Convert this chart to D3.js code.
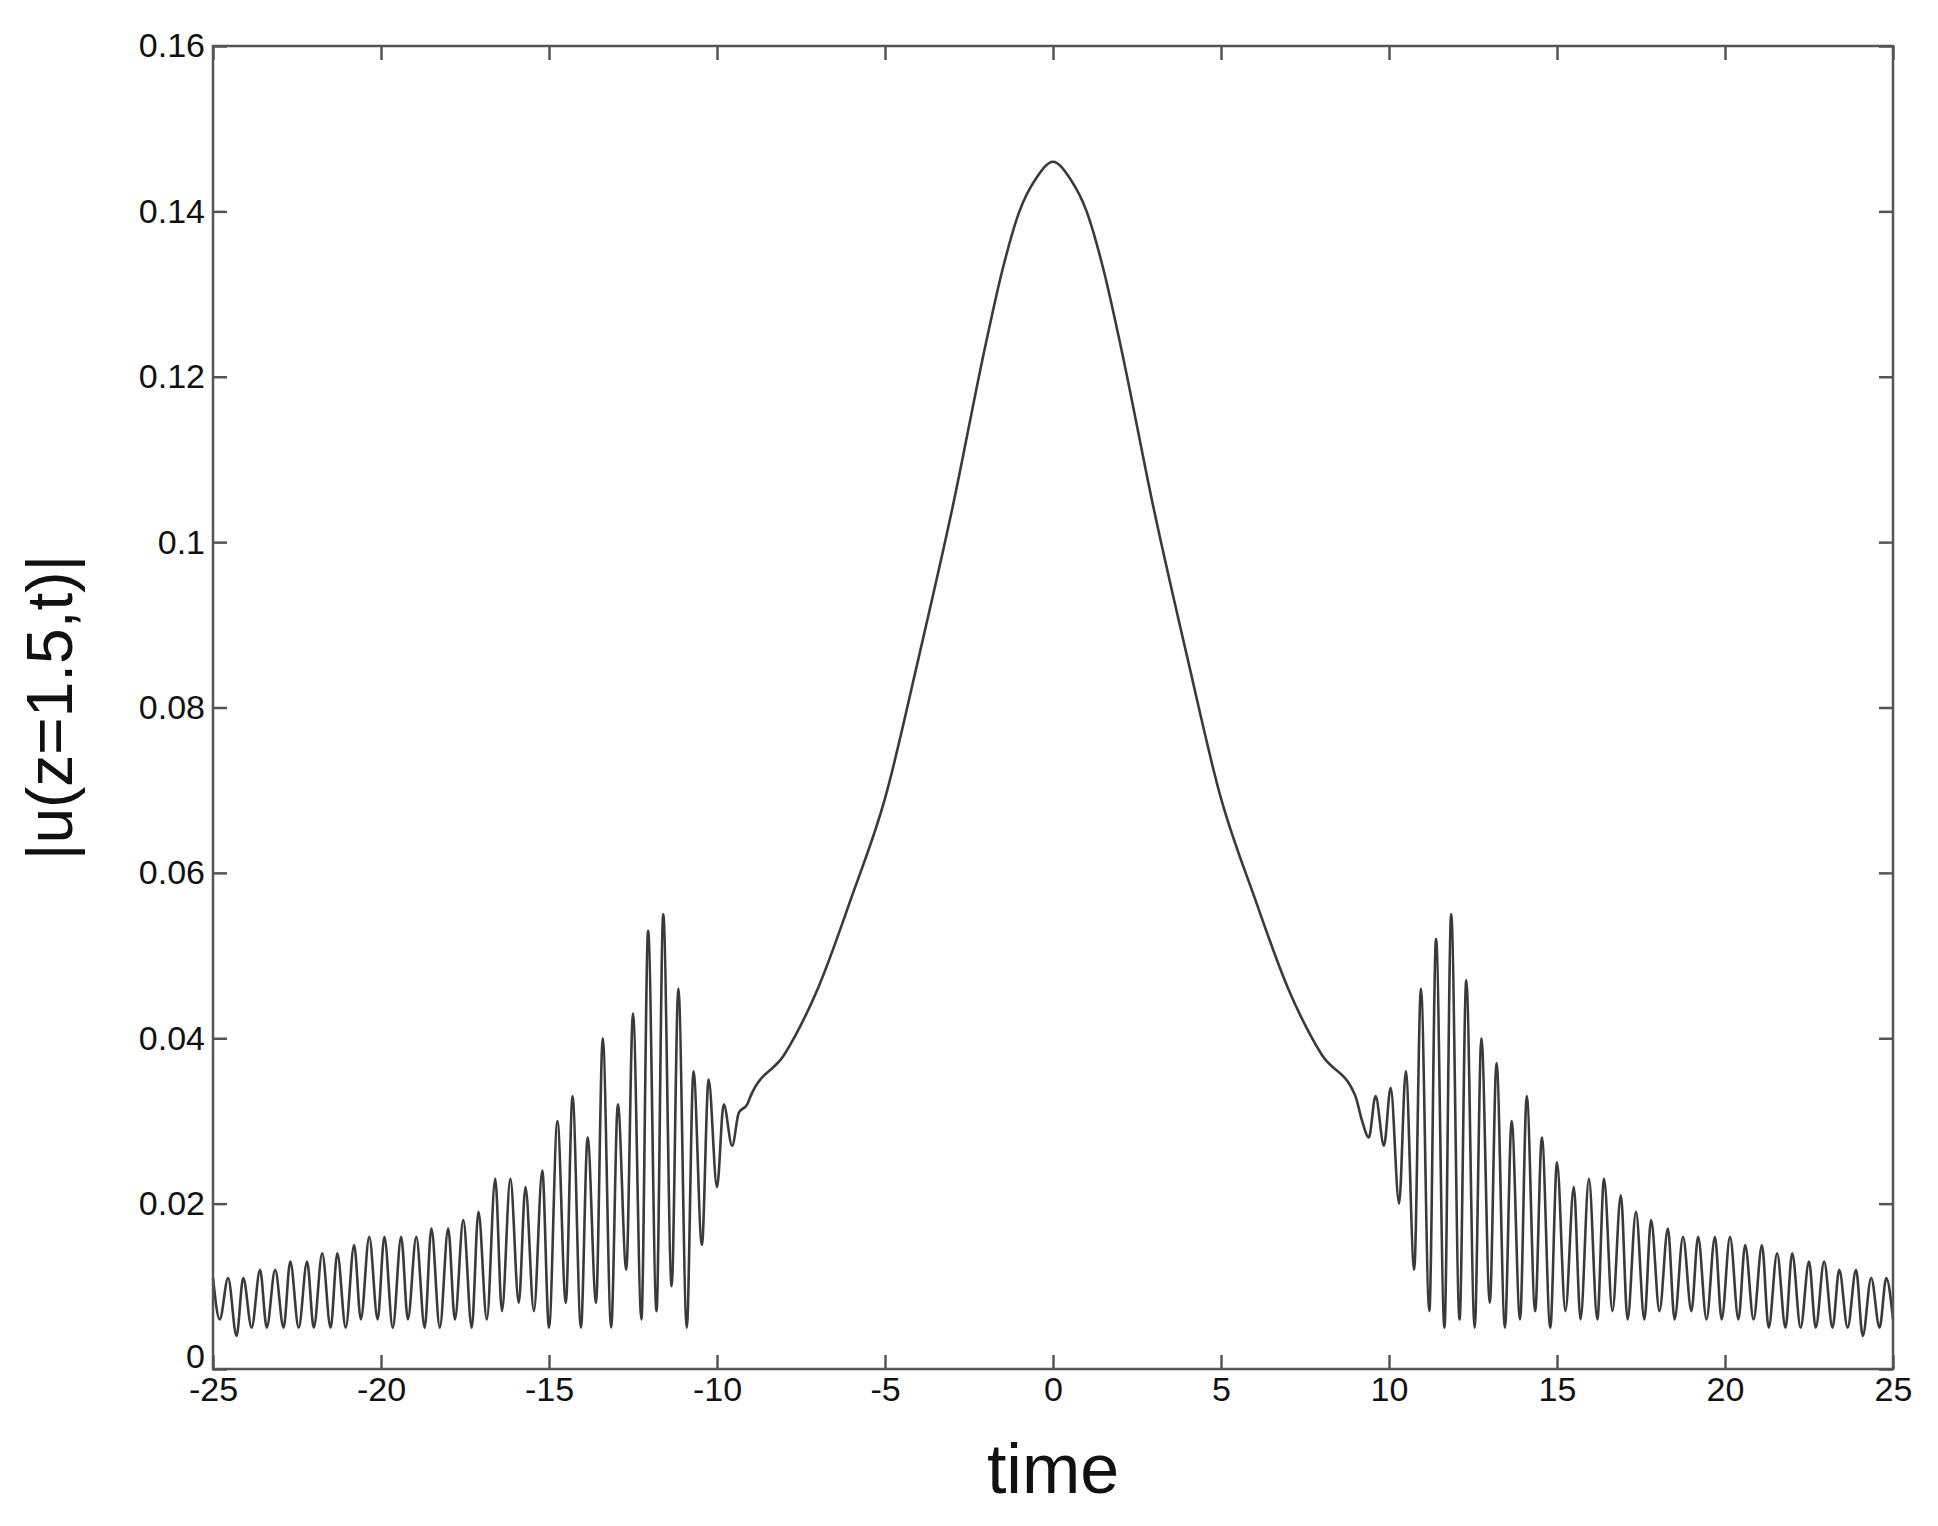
<!DOCTYPE html><html><head><meta charset="utf-8">
<script src="https://cdn.jsdelivr.net/npm/d3@7"></script>
<style>body{margin:0;background:#fff}</style></head><body><svg id="c" width="1938" height="1526"></svg>
<script>
const xTicks=[-25,-20,-15,-10,-5,0,5,10,15,20,25];
const yTicks=[0,0.02,0.04,0.06,0.08,0.1,0.12,0.14,0.16];
const leftT=[-25,-24.8,-24.55,-24.3,-24.1,-23.85,-23.6,-23.4,-23.15,-22.9,-22.7,-22.45,-22.2,-22,-21.75,-21.5,-21.3,-21.05,-20.8,-20.6,-20.35,-20.1,-19.9,-19.65,-19.4,-19.2,-18.95,-18.7,-18.5,-18.25,-18,-17.8,-17.55,-17.3,-17.1,-16.85,-16.6,-16.4,-16.15,-15.9,-15.7,-15.45,-15.2,-15,-14.75,-14.5,-14.3,-14.05,-13.85,-13.6,-13.4,-13.15,-12.95,-12.7,-12.5,-12.25,-12.05,-11.8,-11.6,-11.35,-11.15,-10.9,-10.7,-10.45,-10.25,-10,-9.8,-9.55,-9.35,-9.1];
const leftV=[.011,.006,.011,.004,.011,.005,.012,.005,.012,.005,.013,.005,.013,.005,.014,.005,.014,.005,.015,.006,.016,.006,.016,.005,.016,.006,.016,.005,.017,.005,.017,.006,.018,.005,.019,.006,.023,.007,.023,.008,.022,.007,.024,.005,.030,.008,.033,.005,.028,.008,.040,.005,.032,.012,.043,.006,.053,.007,.055,.010,.046,.005,.036,.015,.035,.022,.032,.027,.031,.032];
const midT=[-9,-8,-7,-6,-5,-4,-3,-2,-1.5,-1,-0.5,0,0.5,1,1.5,2,3,4,5,6,7,8,9];
const midV=[.033,.038,.046,.057,.069,.086,.104,.124,.133,.140,.144,.146,.144,.140,.133,.124,.104,.086,.069,.057,.046,.038,.033];
const rightT=[9.2,9.4,9.6,9.85,10.05,10.3,10.5,10.75,10.95,11.2,11.4,11.65,11.85,12.1,12.3,12.55,12.75,13,13.2,13.45,13.65,13.9,14.1,14.35,14.55,14.8,15,15.25,15.5,15.7,15.95,16.2,16.4,16.65,16.9,17.1,17.35,17.6,17.8,18.05,18.3,18.5,18.75,19,19.2,19.45,19.7,19.9,20.15,20.4,20.6,20.85,21.1,21.3,21.55,21.8,22,22.25,22.5,22.7,22.95,23.2,23.4,23.65,23.9,24.1,24.35,24.6,24.8,25];
const rightV=[.030,.028,.033,.027,.034,.020,.036,.012,.046,.007,.052,.005,.055,.006,.047,.005,.040,.008,.037,.005,.030,.006,.033,.007,.028,.005,.025,.007,.022,.006,.023,.006,.023,.007,.021,.006,.019,.006,.018,.007,.017,.006,.016,.007,.016,.006,.016,.006,.016,.006,.015,.006,.015,.005,.014,.005,.014,.005,.013,.005,.013,.005,.012,.005,.012,.004,.011,.005,.011,.006];

const L=213,R=1893,T=46,B=1369;
const svg=d3.select("#c");
const x=d3.scaleLinear().domain([-25,25]).range([L,R]);
const y=d3.scaleLinear().domain([0,0.16]).range([B,T]);
const pts=[];
leftT.forEach((t,i)=>pts.push([t,leftV[i]]));
midT.forEach((t,i)=>pts.push([t,midV[i]]));
rightT.forEach((t,i)=>pts.push([t,rightV[i]]));
svg.append("path").datum(pts).attr("fill","none").attr("stroke","#3a3a3a").attr("stroke-width",2.6)
 .attr("d",d3.line().x(d=>x(d[0])).y(d=>y(d[1])).curve(d3.curveMonotoneX));
const ac="#555";
const font="'Liberation Sans', Arial, sans-serif";
function sty(g){g.select(".domain").remove();g.selectAll("line").attr("stroke",ac).attr("stroke-width",2.5);
 g.selectAll("text").attr("font-family",font).attr("font-size",34).attr("fill","#111");}
svg.append("g").attr("transform",`translate(0,${B})`).call(d3.axisBottom(x).tickValues(xTicks).tickSize(-14).tickPadding(8).tickFormat(d=>String(d))).call(sty);
svg.append("g").attr("transform",`translate(0,${T})`).call(d3.axisTop(x).tickValues(xTicks).tickSize(-14).tickFormat("")).call(sty);
svg.append("g").attr("transform",`translate(${L},0)`).call(d3.axisLeft(y).tickValues(yTicks).tickSize(-14).tickPadding(8).tickFormat(d=>d===0?"0":String(+d.toFixed(2)))).call(sty)
 .selectAll("text").filter(d=>d===0).attr("dy","-0.05em");
svg.append("g").attr("transform",`translate(${R},0)`).call(d3.axisRight(y).tickValues(yTicks).tickSize(-14).tickFormat("")).call(sty);
svg.append("rect").attr("x",L).attr("y",T).attr("width",R-L).attr("height",B-T).attr("fill","none").attr("stroke",ac).attr("stroke-width",2.5);
svg.append("text").attr("x",(L+R)/2).attr("y",1493).attr("text-anchor","middle").attr("font-family",font).attr("font-size",70).attr("fill","#111").text("time");
svg.append("text").attr("transform",`translate(72,${(T+B)/2}) rotate(-90)`).attr("text-anchor","middle").attr("font-family",font).attr("font-size",64).attr("fill","#111").text("|u(z=1.5,t)|");
</script></body></html>
